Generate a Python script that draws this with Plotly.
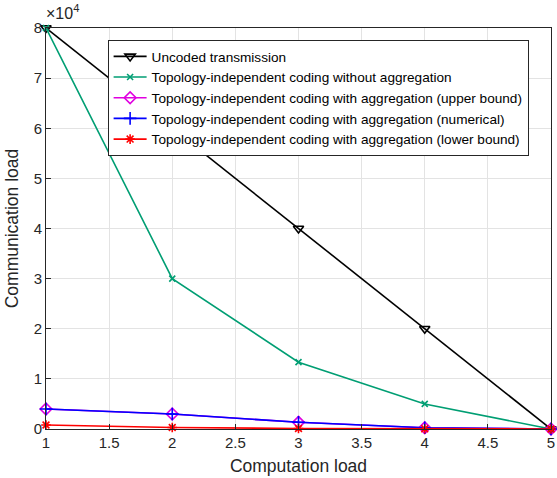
import plotly.graph_objects as go

comp_load = [1, 2, 3, 4, 5]
uncoded = [80000, 60000, 40000, 20000, 0]
no_agg = [80000, 30000, 13333, 5000, 0]
agg_upper = [4000, 3000, 1333, 250, 0]
agg_num = [4000, 3000, 1333, 250, 0]
agg_lower = [800, 300, 100, 40, 0]

xticks = [1, 1.5, 2, 2.5, 3, 3.5, 4, 4.5, 5]
xticklabels = ["1", "1.5", "2", "2.5", "3", "3.5", "4", "4.5", "5"]
yticks = [0, 10000, 20000, 30000, 40000, 50000, 60000, 70000, 80000]
yticklabels = ["0", "1", "2", "3", "4", "5", "6", "7", "8"]

series = [
    ("Uncoded transmission", uncoded, "black", "triangle-down-open", 9),
    ("Topology-independent coding without aggregation", no_agg, "#009E73", "x-thin-open", 6),
    ("Topology-independent coding with aggregation (upper bound)", agg_upper, "#E000E0", "diamond-open", 9),
    ("Topology-independent coding with aggregation (numerical)", agg_num, "blue", "cross-thin-open", 9),
    ("Topology-independent coding with aggregation (lower bound)", agg_lower, "red", "asterisk-open", 8),
]

fig = go.Figure()
for name, vals, color, sym, size in series:
    fig.add_trace(go.Scatter(
        x=comp_load, y=vals, name=name, mode="lines+markers",
        line=dict(color=color, width=1.6),
        marker=dict(symbol=sym, size=size, color=color, line=dict(color=color, width=1.6)),
        cliponaxis=False,
    ))

axis_common = dict(
    showline=True, linecolor="#262626", linewidth=1, mirror=True,
    ticks="inside", ticklen=5, tickcolor="#262626",
    showgrid=True, gridcolor="#E3E3E3", gridwidth=1,
    zeroline=False,
    ticklabeloverflow="allow",
    tickfont=dict(family="Liberation Sans", size=15, color="#262626"),
)

fig.update_layout(
    width=557, height=478,
    margin=dict(l=46, r=2, t=28, b=49),
    paper_bgcolor="white", plot_bgcolor="white",
    font=dict(family="Liberation Sans", color="#262626"),
    xaxis=dict(range=[1, 5], tickvals=xticks, ticktext=xticklabels,
               title=dict(text="Computation load", font=dict(size=17.5), standoff=9),
               **axis_common),
    yaxis=dict(range=[0, 80000], tickvals=yticks, ticktext=yticklabels,
               title=dict(text="Communication load", font=dict(size=17.5), standoff=10),
               **axis_common),
    legend=dict(x=0.122, y=0.97, xanchor="left", yanchor="top",
                bgcolor="white", bordercolor="#262626", borderwidth=1,
                font=dict(family="Liberation Sans", size=13.6, color="black"),
                tracegroupgap=0, itemwidth=33),
    showlegend=True,
    annotations=[dict(text="×10<sup>4</sup>", xref="paper", yref="paper",
                      x=-0.003, y=1.01, xanchor="left", yanchor="bottom", showarrow=False,
                      font=dict(family="Liberation Sans", size=16, color="#262626"))],
)

fig.write_html("out.html")
